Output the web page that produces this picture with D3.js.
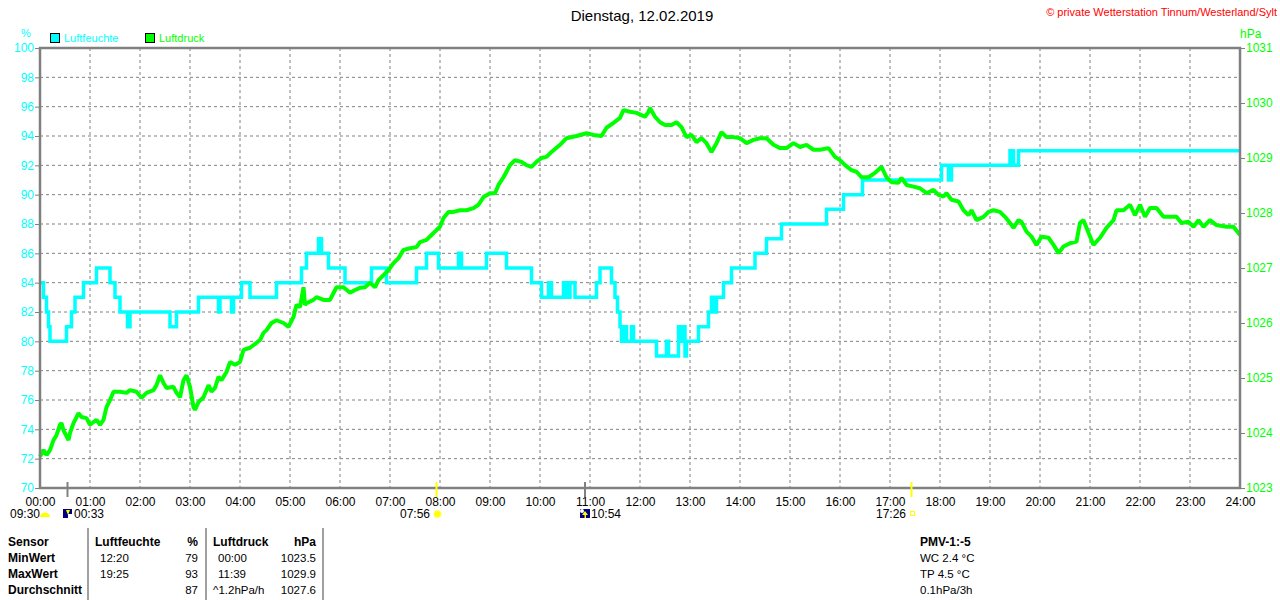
<!DOCTYPE html>
<html><head><meta charset="utf-8">
<script src="https://cdn.jsdelivr.net/npm/d3@7"></script>
<style>
html,body{margin:0;padding:0;background:#fff;}
svg{display:block;font-family:"Liberation Sans",Arial,sans-serif;}
</style></head>
<body>
<svg id="c" width="1280" height="600"></svg>
<script>
// ---------- data ----------
const title = "Dienstag, 12.02.2019";
const copyright = "© private Wetterstation Tinnum/Westerland/Sylt";
const hourLabels = ["00:00","01:00","02:00","03:00","04:00","05:00","06:00","07:00","08:00","09:00","10:00","11:00","12:00","13:00","14:00","15:00","16:00","17:00","18:00","19:00","20:00","21:00","22:00","23:00","24:00"];
const humTicks = [70,72,74,76,78,80,82,84,86,88,90,92,94,96,98,100];
const presTicks = [1023,1024,1025,1026,1027,1028,1029,1030,1031];

// Luftfeuchte (%) - step changes, time in hours
const humT = [0.00,0.07,0.13,0.17,0.20,0.53,0.63,0.70,0.87,1.13,1.40,1.50,1.60,1.75,1.80,2.60,2.73,3.17,3.57,3.60,3.83,3.87,4.03,4.20,4.73,5.23,5.33,5.57,5.63,5.77,6.10,6.63,6.93,7.53,7.73,7.97,8.37,8.43,8.93,9.33,9.83,10.03,10.17,10.23,10.47,10.53,10.60,10.70,11.13,11.20,11.43,11.50,11.55,11.60,11.63,11.67,11.73,11.83,11.87,12.33,12.53,12.57,12.77,12.83,12.87,12.90,12.93,13.17,13.37,13.43,13.47,13.53,13.67,13.83,14.30,14.53,14.83,15.73,16.07,16.45,18.03,18.17,18.23,19.40,19.47,19.57,24.00];
const humV = [84,83,82,81,80,81,82,83,84,85,84,83,82,81,82,81,82,83,82,83,82,83,84,83,84,85,86,87,86,85,84,85,84,85,86,85,86,85,86,85,84,83,84,83,84,83,84,83,84,85,84,83,82,81,80,81,80,81,80,79,80,79,81,80,81,79,80,81,82,83,82,83,84,85,86,87,88,89,90,91,92,91,92,93,92,93,93];

// Luftdruck (hPa), time in hours
const presT = [0.00,0.07,0.13,0.20,0.27,0.33,0.40,0.43,0.47,0.57,0.60,0.67,0.77,0.83,0.93,1.00,1.07,1.13,1.20,1.27,1.33,1.40,1.47,1.60,1.73,1.80,1.93,2.03,2.13,2.27,2.33,2.40,2.47,2.53,2.67,2.73,2.80,2.87,2.93,3.00,3.07,3.10,3.17,3.27,3.37,3.43,3.50,3.57,3.63,3.73,3.80,3.90,4.00,4.07,4.20,4.33,4.40,4.47,4.53,4.63,4.73,4.87,4.97,5.07,5.13,5.20,5.27,5.30,5.33,5.47,5.53,5.67,5.80,5.93,6.07,6.20,6.30,6.40,6.50,6.60,6.70,6.77,6.87,6.97,7.07,7.17,7.27,7.40,7.53,7.60,7.73,7.83,7.93,8.00,8.07,8.17,8.27,8.40,8.53,8.67,8.77,8.87,9.00,9.10,9.17,9.27,9.40,9.50,9.63,9.73,9.83,9.93,10.03,10.13,10.23,10.40,10.53,10.73,10.93,11.07,11.23,11.33,11.47,11.60,11.67,11.80,11.93,12.10,12.17,12.20,12.30,12.40,12.50,12.63,12.73,12.83,12.93,13.03,13.13,13.23,13.33,13.43,13.53,13.63,13.73,13.87,14.00,14.13,14.27,14.40,14.53,14.67,14.80,14.93,15.07,15.20,15.33,15.47,15.60,15.77,15.90,16.00,16.10,16.23,16.33,16.43,16.57,16.70,16.83,16.93,17.03,17.17,17.23,17.33,17.47,17.60,17.73,17.87,17.97,18.07,18.13,18.23,18.37,18.47,18.57,18.63,18.73,18.87,18.97,19.07,19.20,19.30,19.40,19.47,19.57,19.63,19.73,19.83,19.93,20.03,20.17,20.27,20.37,20.47,20.60,20.73,20.80,20.87,20.97,21.07,21.20,21.33,21.47,21.53,21.67,21.80,21.90,22.00,22.10,22.20,22.33,22.47,22.60,22.73,22.83,22.97,23.07,23.17,23.27,23.40,23.53,23.73,23.87,24.00];
const presV = [1023.57,1023.69,1023.60,1023.69,1023.87,1023.96,1024.15,1024.18,1024.05,1023.87,1024.00,1024.18,1024.36,1024.29,1024.27,1024.15,1024.20,1024.24,1024.15,1024.24,1024.47,1024.60,1024.75,1024.75,1024.73,1024.78,1024.75,1024.64,1024.73,1024.78,1024.87,1025.05,1024.91,1024.82,1024.84,1024.73,1024.65,1024.96,1025.05,1024.84,1024.47,1024.42,1024.56,1024.65,1024.87,1024.75,1024.82,1025.02,1024.96,1025.11,1025.29,1025.24,1025.29,1025.51,1025.55,1025.64,1025.69,1025.82,1025.87,1026.00,1026.05,1026.00,1025.93,1026.11,1026.33,1026.29,1026.65,1026.33,1026.36,1026.42,1026.47,1026.42,1026.42,1026.65,1026.65,1026.55,1026.60,1026.64,1026.65,1026.73,1026.65,1026.78,1026.87,1026.96,1027.09,1027.18,1027.33,1027.36,1027.38,1027.47,1027.51,1027.60,1027.69,1027.75,1027.91,1028.02,1028.02,1028.05,1028.05,1028.09,1028.15,1028.29,1028.36,1028.36,1028.51,1028.65,1028.87,1028.96,1028.93,1028.87,1028.84,1028.93,1029.00,1029.02,1029.11,1029.24,1029.36,1029.40,1029.45,1029.42,1029.40,1029.55,1029.64,1029.73,1029.87,1029.84,1029.82,1029.75,1029.84,1029.91,1029.75,1029.65,1029.60,1029.60,1029.65,1029.56,1029.38,1029.42,1029.29,1029.36,1029.27,1029.11,1029.27,1029.47,1029.38,1029.38,1029.36,1029.27,1029.33,1029.36,1029.36,1029.24,1029.18,1029.18,1029.27,1029.20,1029.24,1029.15,1029.15,1029.18,1029.02,1028.96,1028.87,1028.78,1028.75,1028.65,1028.65,1028.73,1028.84,1028.65,1028.56,1028.55,1028.64,1028.51,1028.48,1028.45,1028.36,1028.42,1028.33,1028.30,1028.36,1028.24,1028.21,1028.05,1027.96,1028.05,1027.87,1027.93,1028.02,1028.05,1028.02,1027.93,1027.82,1027.73,1027.87,1027.84,1027.66,1027.57,1027.42,1027.57,1027.55,1027.42,1027.27,1027.39,1027.45,1027.48,1027.82,1027.87,1027.64,1027.42,1027.55,1027.73,1027.87,1028.05,1028.05,1028.15,1027.96,1028.15,1027.93,1028.09,1028.09,1027.93,1027.93,1027.93,1027.82,1027.84,1027.75,1027.87,1027.75,1027.87,1027.78,1027.75,1027.75,1027.60];

// Sun / moon events (hours)
const eventT = [0.55, 7.93, 10.9, 17.43];
const eventLabel = ["00:33","07:56","10:54","17:26"];
const eventColor = ["#808080","#ffff00","#808080","#ffff00"];

// table
const tableRows = ["Sensor","MinWert","MaxWert","Durchschnitt"];
const humCol = [["Luftfeuchte","%"],["12:20","79"],["19:25","93"],["","87"]];
const presCol = [["Luftdruck","hPa"],["00:00","1023.5"],["11:39","1029.9"],["^1.2hPa/h","1027.6"]];
const pmvLines = ["PMV-1:-5","WC 2.4 °C","TP 4.5 °C","0.1hPa/3h"];

// ---------- drawing ----------
const svg = d3.select("#c");
const L = 40, R = 1240, T = 48, B = 488;
const x = d3.scaleLinear().domain([0,24]).range([L,R]);
const yH = d3.scaleLinear().domain([70,100]).range([B,T]);
const yP = d3.scaleLinear().domain([1023,1031]).range([B,T]);
const grid = "#808080";

// grid
svg.append("g").selectAll("line").data(d3.range(1,24)).join("line")
  .attr("x1",d=>x(d)).attr("x2",d=>x(d)).attr("y1",T).attr("y2",B)
  .attr("stroke",grid).attr("stroke-width",1).attr("stroke-dasharray","3,3");
svg.append("g").selectAll("line").data(humTicks.slice(1,-1)).join("line")
  .attr("x1",L).attr("x2",R).attr("y1",d=>yH(d)).attr("y2",d=>yH(d))
  .attr("stroke",grid).attr("stroke-width",1).attr("stroke-dasharray","3,3");

// lines
const humData = humT.map((t,i)=>({t,v:humV[i]}));
const presData = presT.map((t,i)=>({t,v:presV[i]}));
svg.append("path").datum(humData)
  .attr("d", d3.line().x(d=>x(d.t)).y(d=>yH(d.v)).curve(d3.curveStepAfter))
  .attr("fill","none").attr("stroke","#00ffff").attr("stroke-width",3.5);
svg.append("path").datum(presData)
  .attr("d", d3.line().x(d=>x(d.t)).y(d=>yP(d.v)))
  .attr("fill","none").attr("stroke","#00ff00").attr("stroke-width",4).attr("stroke-linejoin","bevel");

// frame
svg.append("path").attr("d",`M${L},${B}V${T}H${R}V${B}Z`)
  .attr("fill","none").attr("stroke",grid).attr("stroke-width",2.5);

// left axis
const gl = svg.append("g").attr("transform",`translate(${L},0)`)
  .call(d3.axisLeft(yH).tickValues(humTicks).tickSize(5).tickPadding(1));
gl.select(".domain").remove();
gl.selectAll("line").attr("stroke",grid);
gl.selectAll("text").attr("fill","#00ffff").style("font-size","12px").style("font-family","'Liberation Sans',Arial,sans-serif");

// right axis
const gr = svg.append("g").attr("transform",`translate(${R},0)`)
  .call(d3.axisRight(yP).tickValues(presTicks).tickSize(5).tickPadding(1).tickFormat(d3.format("d")));
gr.select(".domain").remove();
gr.selectAll("line").attr("stroke",grid);
gr.selectAll("text").attr("fill","#00ff00").style("font-size","12px").style("font-family","'Liberation Sans',Arial,sans-serif");

// bottom axis labels
const gb = svg.append("g").attr("transform",`translate(0,${B})`)
  .call(d3.axisBottom(x).tickValues(d3.range(0,25)).tickSize(0).tickPadding(9).tickFormat((d,i)=>hourLabels[i]));
gb.select(".domain").remove();
gb.selectAll("text").attr("fill","#000").style("font-size","12px").style("font-family","'Liberation Sans',Arial,sans-serif");

// units
svg.append("text").attr("x",26).attr("y",37).attr("text-anchor","middle").attr("fill","#00ffff").style("font-size","11px").text("%");
svg.append("text").attr("x",1240).attr("y",38).attr("fill","#00ff00").style("font-size","12px").text("hPa");

// legend
const leg = [["Luftfeuchte","#00ffff",50],["Luftdruck","#00ff00",145]];
leg.forEach(([t,c,lx])=>{
  svg.append("rect").attr("x",lx+0.5).attr("y",33.5).attr("width",9).attr("height",9).attr("fill",c).attr("stroke","#000").attr("stroke-width",1);
  svg.append("text").attr("x",lx+14).attr("y",42).attr("fill",c).style("font-size","11px").text(t);
});

// title & copyright
svg.append("text").attr("x",642).attr("y",21).attr("text-anchor","middle").attr("fill","#000").style("font-size","15px").text(title);
svg.append("text").attr("x",1277).attr("y",16).attr("text-anchor","end").attr("fill","#ff0000").style("font-size","11px").text(copyright);

// event markers on x axis
svg.append("g").selectAll("line").data(eventT).join("line")
  .attr("x1",d=>x(d)).attr("x2",d=>x(d)).attr("y1",482).attr("y2",497)
  .attr("stroke",(d,i)=>eventColor[i]).attr("stroke-width",2);

// event labels row
svg.append("text").attr("x",10).attr("y",518).style("font-size","12px").text("09:30");
svg.append("path").attr("d","M40,517 A5,4.5 0 0 1 50,517 Z").attr("fill","#ffff00");
// moonset icon
svg.append("rect").attr("x",63).attr("y",509).attr("width",9).attr("height",9).attr("fill","#000080");
svg.append("path").attr("d","M66,510 L70,510 L68,515 Z").attr("fill","#ffff00");
svg.append("rect").attr("x",68).attr("y",514).attr("width",4).attr("height",4).attr("fill","#fff");
svg.append("text").attr("x",74).attr("y",518).style("font-size","12px").text(eventLabel[0]);
// sunrise
svg.append("text").attr("x",430).attr("y",518).attr("text-anchor","end").style("font-size","12px").text(eventLabel[1]);
svg.append("circle").attr("cx",x(eventT[1])+1).attr("cy",514).attr("r",3.5).attr("fill","#ffff00").attr("stroke","#ffff66").attr("stroke-width",1.5).attr("stroke-dasharray","1,1");
// moonrise
svg.append("rect").attr("x",580).attr("y",509).attr("width",10).attr("height",9).attr("fill","#000080");
svg.append("circle").attr("cx",582).attr("cy",511).attr("r",2).attr("fill","#fff");
svg.append("path").attr("d","M585,511 L588,515 L582,515 Z").attr("fill","#ffff00");
svg.append("rect").attr("x",584.5).attr("y",514).attr("width",1.5).attr("height",4).attr("fill","#ffff00");
svg.append("text").attr("x",591).attr("y",518).style("font-size","12px").text(eventLabel[2]);
// sunset
svg.append("text").attr("x",906).attr("y",518).attr("text-anchor","end").style("font-size","12px").text(eventLabel[3]);
svg.append("rect").attr("x",910.5).attr("y",511.5).attr("width",4).attr("height",4).attr("fill","none").attr("stroke","#ffff00").attr("stroke-width",1);

// table
[88,206,323].forEach(vx=>{
  svg.append("line").attr("x1",vx).attr("x2",vx).attr("y1",528).attr("y2",600).attr("stroke",grid).attr("stroke-width",1.5);
});
const rowY = [546,562,578,594];
tableRows.forEach((r,i)=>{
  svg.append("text").attr("x",8).attr("y",rowY[i]).style("font-size","12px").style("font-weight","bold").text(r);
  const bold = i===0;
  svg.append("text").attr("x",bold?95:100).attr("y",rowY[i]).style("font-size",bold?"12px":"11.5px").style("font-weight",bold?"bold":"normal").text(humCol[i][0]);
  svg.append("text").attr("x",198).attr("y",rowY[i]).attr("text-anchor","end").style("font-size",bold?"12px":"11.5px").style("font-weight",bold?"bold":"normal").text(humCol[i][1]);
  svg.append("text").attr("x",(bold||i===3)?213:218).attr("y",rowY[i]).style("font-size",bold?"12px":"11.5px").style("font-weight",bold?"bold":"normal").text(presCol[i][0]);
  svg.append("text").attr("x",316).attr("y",rowY[i]).attr("text-anchor","end").style("font-size",bold?"12px":"11.5px").style("font-weight",bold?"bold":"normal").text(presCol[i][1]);
});
pmvLines.forEach((t,i)=>{
  svg.append("text").attr("x",920).attr("y",rowY[i]).style("font-size",i===0?"12px":"11.5px").style("font-weight",i===0?"bold":"normal").text(t);
});
</script>
</body></html>
